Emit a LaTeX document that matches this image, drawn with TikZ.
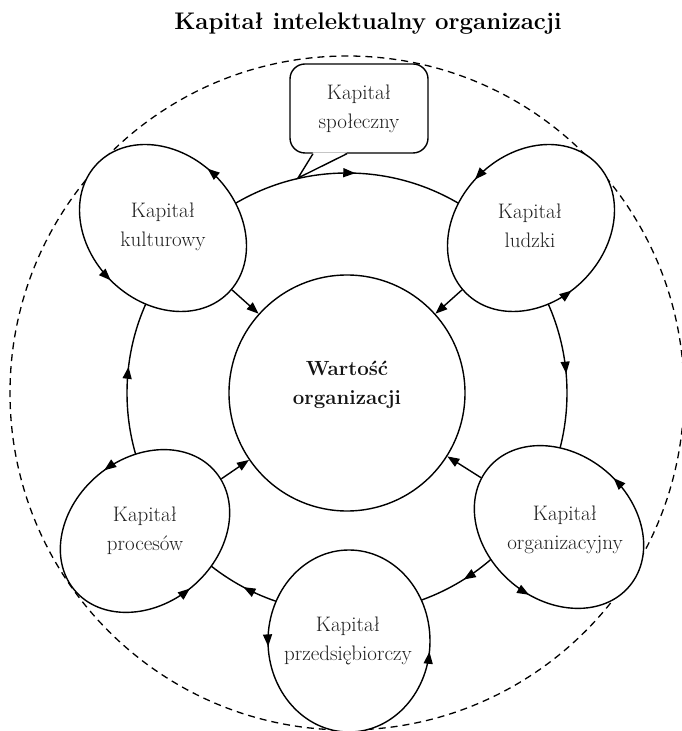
\documentclass[tikz,border=0pt]{standalone}
\usepackage{fontspec}
\usetikzlibrary{arrows.meta,decorations.markings,shapes.geometric,calc}
\begin{document}
\begin{tikzpicture}[x=1pt,y=1pt,
  line width=1.4pt,
  >={Triangle[length=12pt,width=9pt]},
  sat/.style={ellipse, draw, fill=white, inner sep=0pt},
  lbl/.style={align=center, font=\fontsize{21}{29}\selectfont, text=black!88},
  bold lbl/.style={align=center, font=\fontsize{20.5}{29}\selectfont\bfseries, text=black!92},
  twomarks/.style 2 args={postaction={decorate}, decoration={markings,
     mark=at position #1 with {\arrow{>}}, mark=at position #2 with {\arrow{>}}}},
  ringmarks/.style={postaction={decorate}, decoration={markings,
     mark=at position 0.161 with {\arrow{>}},
     mark=at position 0.328 with {\arrow{>}},
     mark=at position 0.519 with {\arrow{>}},
     mark=at position 0.756 with {\arrow{>}},
     mark=at position 0.986 with {\arrow{>}}}},
  outerdash/.style={line width=1.3pt, dash pattern=on 7pt off 5pt},
  radial/.style={->}
]
\useasboundingbox (0,0) rectangle (681,731);

% title
\node[font=\fontsize{24}{28}\selectfont\bfseries] (title) at (368,707) {Kapitał intelektualny organizacji};

% centre
\coordinate (C) at (347,338);
\draw[outerdash] (C) circle[radius=337];
\draw[ringmarks] ($(C)+(220,0)$) arc[start angle=0, end angle=-360, radius=220];

\node[circle, draw, fill=white, minimum size=236pt, inner sep=0pt] (wart) at (C) {};
\node[bold lbl] (wartlbl) at (347,346) {Wartość\\organizacji};

% callout
\node[draw, fill=white, rounded corners=15pt, minimum width=138pt, minimum height=89pt, lbl] (spol) at (359,622.5) {Kapitał\\społeczny};
\coordinate (spoltip) at (298,553);
\fill[white] ($(spol.south)+(-46,1.3)$) -- (spoltip) -- ($(spol.south)+(-12,1.3)$) -- cycle;
\draw[line join=miter] ($(spol.south)+(-46,0)$) -- (spoltip) -- ($(spol.south)+(-12,0)$);

% satellites
\node[sat, minimum width=184pt, minimum height=148pt, rotate=-45] (kult) at (163,503) {};
\node[sat, minimum width=184pt, minimum height=148pt, rotate=45] (ludz) at (531,503) {};
\node[sat, minimum width=184pt, minimum height=146pt, rotate=-40] (orga) at (559,204) {};
\node[sat, minimum width=184pt, minimum height=146pt, rotate=40] (proc) at (145,200) {};
\node[sat, minimum width=182pt, minimum height=162pt, rotate=90] (przed) at (349,90) {};

% arrows on the satellites' borders
\path[rotate around={-45:(kult.center)}, twomarks={0.27}{0.75}] (kult.center) ellipse [x radius=92, y radius=74];
\path[rotate around={45:(ludz.center)}, twomarks={0.26}{0.72}] (ludz.center) ellipse [x radius=92, y radius=74];
\path[rotate around={-40:(orga.center)}, twomarks={0.23}{0.79}] (orga.center) ellipse [x radius=92, y radius=73];
\path[rotate around={40:(proc.center)}, twomarks={0.235}{0.745}] (proc.center) ellipse [x radius=92, y radius=73];
\path[rotate around={90:(przed.center)}, twomarks={0.26}{0.73}] (przed.center) ellipse [x radius=91, y radius=81];

% radial connectors
\draw[radial] (kult) -- (wart);
\draw[radial] (ludz) -- (wart);
\draw[radial] (orga) -- (wart);
\draw[radial] (proc) -- (wart);

% labels
\node[lbl] (kultlbl) at (163,504) {Kapitał\\kulturowy};
\node[lbl] (ludzlbl) at (530,505) {Kapitał\\ludzki};
\node[lbl] (orgalbl) at (565,201) {Kapitał\\organizacyjny};
\node[lbl] (proclbl) at (145,200) {Kapitał\\procesów};
\node[lbl] (przedlbl) at (348,90) {Kapitał\\przedsiębiorczy};
\end{tikzpicture}
\end{document}
